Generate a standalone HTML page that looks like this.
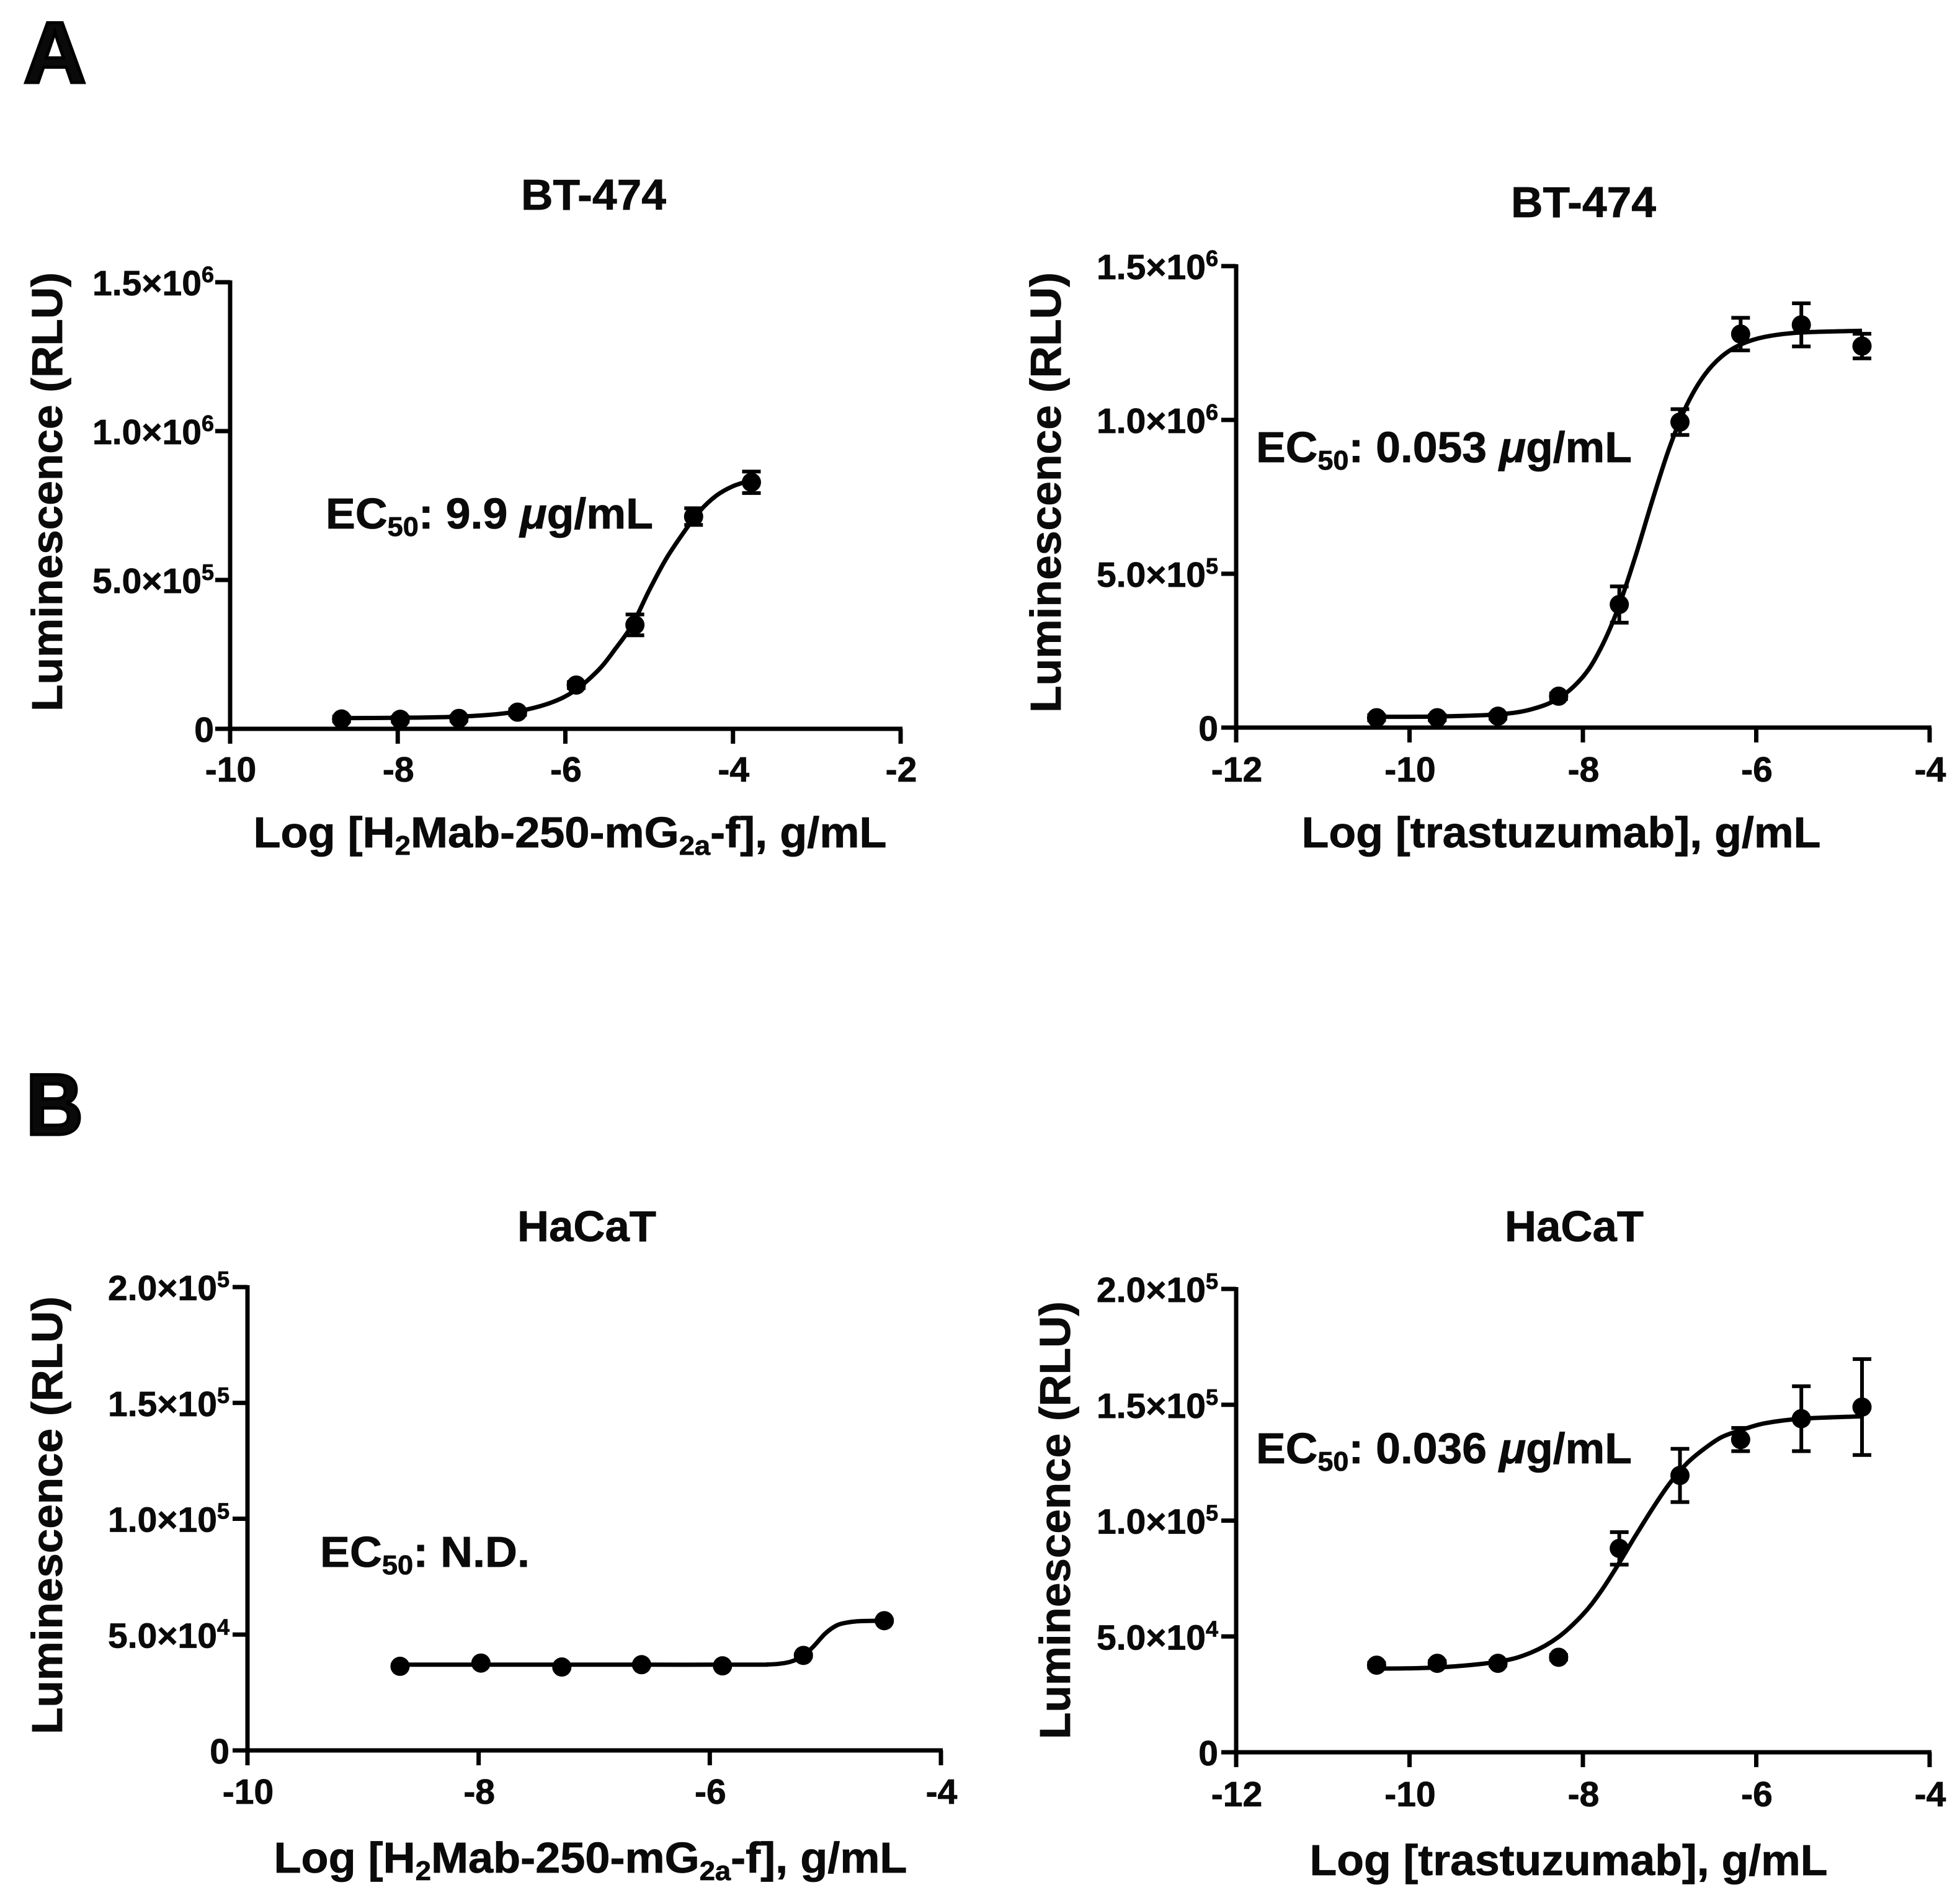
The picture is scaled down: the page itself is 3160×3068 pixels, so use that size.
<!DOCTYPE html>
<html lang="en">
<head>
<meta charset="utf-8">
<title>Luminescence dose-response curves</title>
<style>
html,body{margin:0;padding:0;background:#fff;}
svg{display:block;}
text{font-family:"Liberation Sans",Arial,sans-serif;font-weight:bold;fill:#0a0a0a;stroke:#0a0a0a;stroke-width:0.8px;}
.title{font-size:70px;text-anchor:middle;}
.axis-title{font-size:70px;text-anchor:middle;}
.ec{font-size:70px;}
.tick{font-size:57px;}
.panel-letter{font-size:140px;stroke:#000;stroke-width:5px;}
</style>
</head>
<body>
<svg id="figure" xmlns="http://www.w3.org/2000/svg" width="3160" height="3068" viewBox="0 0 3160 3068">
<rect width="3160" height="3068" fill="#fff"/>

<text class="panel-letter" x="38" y="133" textLength="101" lengthAdjust="spacingAndGlyphs">A</text>
<text class="panel-letter" x="42" y="1829" textLength="92" lengthAdjust="spacingAndGlyphs">B</text>

<text class="title" x="957" y="338" textLength="234" lengthAdjust="spacingAndGlyphs">BT-474</text>
<text class="title" x="2553" y="350" textLength="234" lengthAdjust="spacingAndGlyphs">BT-474</text>
<text class="title" x="946" y="2001" textLength="224" lengthAdjust="spacingAndGlyphs">HaCaT</text>
<text class="title" x="2538" y="2001" textLength="224" lengthAdjust="spacingAndGlyphs">HaCaT</text>

<text class="axis-title" x="919" y="1366" textLength="1021" lengthAdjust="spacingAndGlyphs">Log [H<tspan font-size="44" dy="12">2</tspan><tspan dy="-12">Mab-250-mG</tspan><tspan font-size="44" dy="12">2a</tspan><tspan dy="-12">-f], g/mL</tspan></text>
<text class="axis-title" x="2517" y="1366" textLength="837" lengthAdjust="spacingAndGlyphs">Log [trastuzumab], g/mL</text>
<text class="axis-title" x="952" y="3019" textLength="1021" lengthAdjust="spacingAndGlyphs">Log [H<tspan font-size="44" dy="12">2</tspan><tspan dy="-12">Mab-250-mG</tspan><tspan font-size="44" dy="12">2a</tspan><tspan dy="-12">-f], g/mL</tspan></text>
<text class="axis-title" x="2529" y="3023" textLength="835" lengthAdjust="spacingAndGlyphs">Log [trastuzumab], g/mL</text>

<text class="axis-title" transform="translate(100 793) rotate(-90)" textLength="708" lengthAdjust="spacingAndGlyphs">Luminescence (RLU)</text>
<text class="axis-title" transform="translate(1710 794) rotate(-90)" textLength="710" lengthAdjust="spacingAndGlyphs">Luminescence (RLU)</text>
<text class="axis-title" transform="translate(100 2443) rotate(-90)" textLength="706" lengthAdjust="spacingAndGlyphs">Luminescence (RLU)</text>
<text class="axis-title" transform="translate(1725 2451) rotate(-90)" textLength="706" lengthAdjust="spacingAndGlyphs">Luminescence (RLU)</text>

<text class="ec" x="525" y="852" textLength="528" lengthAdjust="spacingAndGlyphs">EC<tspan font-size="44" dy="12">50</tspan><tspan dy="-12">: 9.9 </tspan><tspan font-style="italic">μ</tspan>g/mL</text>
<text class="ec" x="2025" y="745" textLength="606" lengthAdjust="spacingAndGlyphs">EC<tspan font-size="44" dy="12">50</tspan><tspan dy="-12">: 0.053 </tspan><tspan font-style="italic">μ</tspan>g/mL</text>
<text class="ec" x="516" y="2526" textLength="338" lengthAdjust="spacingAndGlyphs">EC<tspan font-size="44" dy="12">50</tspan><tspan dy="-12">: N.D.</tspan></text>
<text class="ec" x="2025" y="2359" textLength="606" lengthAdjust="spacingAndGlyphs">EC<tspan font-size="44" dy="12">50</tspan><tspan dy="-12">: 0.036 </tspan><tspan font-style="italic">μ</tspan>g/mL</text>
</svg>

<script>
// ---- Panel A, left: BT-474 / H2Mab-250-mG2a-f ----
const aLeftXTicks = [-10, -8, -6, -4, -2];
const aLeftYTicks = [0, 500000, 1000000, 1500000];
const aLeftYLabels = ["0", "5.0×10^5", "1.0×10^6", "1.5×10^6"];
const aLeftConc = [-8.67, -7.97, -7.27, -6.57, -5.87, -5.17, -4.47, -3.78];
const aLeftMean = [33000, 32000, 35000, 56000, 147000, 349000, 713000, 828000];
const aLeftErr = [8000, 8000, 8000, 9000, 10000, 35000, 28000, 36000];
const aLeftCurveX = [-8.67, -8.0, -7.5, -7.0, -6.6, -6.2, -5.9, -5.6, -5.4, -5.2, -5.0, -4.8, -4.6, -4.4, -4.2, -4.0, -3.78];
const aLeftCurveY = [36000, 37000, 39000, 45000, 57000, 85000, 126000, 199000, 270000, 350000, 465000, 570000, 655000, 730000, 783000, 815000, 835000];

// ---- Panel A, right: BT-474 / trastuzumab ----
const aRightXTicks = [-12, -10, -8, -6, -4];
const aRightYTicks = [0, 500000, 1000000, 1500000];
const aRightYLabels = ["0", "5.0×10^5", "1.0×10^6", "1.5×10^6"];
const aRightConc = [-10.38, -9.68, -8.98, -8.28, -7.58, -6.88, -6.18, -5.48, -4.78];
const aRightMean = [32000, 32000, 37000, 102000, 400000, 993000, 1279000, 1309000, 1240000];
const aRightErr = [8000, 8000, 8000, 9000, 59000, 42000, 53000, 70000, 40000];
const aRightCurveX = [-10.38, -9.68, -8.98, -8.6, -8.28, -8.0, -7.8, -7.6, -7.4, -7.2, -7.0, -6.8, -6.6, -6.4, -6.18, -5.9, -5.5, -4.78];
const aRightCurveY = [35000, 36000, 43000, 59000, 95000, 165000, 254000, 383000, 551000, 737000, 911000, 1049000, 1145000, 1206000, 1245000, 1270000, 1284000, 1290000];

// ---- Panel B, left: HaCaT / H2Mab-250-mG2a-f ----
const bLeftXTicks = [-10, -8, -6, -4];
const bLeftYTicks = [0, 50000, 100000, 150000, 200000];
const bLeftYLabels = ["0", "5.0×10^4", "1.0×10^5", "1.5×10^5", "2.0×10^5"];
const bLeftConc = [-8.68, -7.98, -7.28, -6.59, -5.89, -5.19, -4.49];
const bLeftMean = [36300, 37700, 36000, 37000, 36500, 41000, 56000];
const bLeftErr = [500, 500, 500, 500, 500, 500, 500];
const bLeftCurveX = [-8.68, -7.5, -6.5, -5.6, -5.5, -5.4, -5.3, -5.2, -5.1, -5.0, -4.9, -4.8, -4.7, -4.49];
const bLeftCurveY = [37000, 37000, 37000, 37000, 37100, 37400, 38300, 40500, 45000, 50500, 54000, 55300, 55800, 56000];

// ---- Panel B, right: HaCaT / trastuzumab ----
const bRightXTicks = [-12, -10, -8, -6, -4];
const bRightYTicks = [0, 50000, 100000, 150000, 200000];
const bRightYLabels = ["0", "5.0×10^4", "1.0×10^5", "1.5×10^5", "2.0×10^5"];
const bRightConc = [-10.38, -9.68, -8.98, -8.28, -7.58, -6.88, -6.18, -5.48, -4.78];
const bRightMean = [37600, 38400, 38400, 41000, 88000, 119500, 135000, 144000, 149000];
const bRightErr = [1000, 1000, 1000, 1000, 7000, 11500, 5000, 14000, 20700];
const bRightCurveX = [-10.38, -9.68, -8.98, -8.6, -8.28, -8.0, -7.8, -7.6, -7.4, -7.2, -7.0, -6.8, -6.6, -6.4, -6.18, -5.9, -5.48, -4.78];
const bRightCurveY = [36100, 36600, 39100, 43000, 49800, 59500, 69000, 80600, 93000, 105000, 116000, 124700, 131000, 136000, 139000, 142000, 144000, 145000];

const NS = "http://www.w3.org/2000/svg";
const figure = document.getElementById("figure");

function make(tag, parent, attrs) {
  const el = document.createElementNS(NS, tag);
  for (const k in attrs) el.setAttribute(k, attrs[k]);
  parent.appendChild(el);
  return el;
}

function smoothPath(pts) {
  let d = "M" + pts[0][0].toFixed(1) + " " + pts[0][1].toFixed(1);
  for (let i = 0; i < pts.length - 1; i++) {
    const p0 = pts[Math.max(i - 1, 0)], p1 = pts[i], p2 = pts[i + 1], p3 = pts[Math.min(i + 2, pts.length - 1)];
    const c1x = p1[0] + (p2[0] - p0[0]) / 6, c1y = p1[1] + (p2[1] - p0[1]) / 6;
    const c2x = p2[0] - (p3[0] - p1[0]) / 6, c2y = p2[1] - (p3[1] - p1[1]) / 6;
    d += "C" + c1x.toFixed(1) + " " + c1y.toFixed(1) + " " + c2x.toFixed(1) + " " + c2y.toFixed(1) + " " + p2[0].toFixed(1) + " " + p2[1].toFixed(1);
  }
  return d;
}

function drawPanel(id, box, xTicks, yTicks, yLabels, conc, mean, err, curveX, curveY) {
  const xMin = xTicks[0], xMax = xTicks[xTicks.length - 1];
  const yMin = yTicks[0], yMax = yTicks[yTicks.length - 1];
  const sx = v => box.left + (v - xMin) / (xMax - xMin) * (box.right - box.left);
  const sy = v => box.bottom - (v - yMin) / (yMax - yMin) * (box.bottom - box.top);

  const g = make("g", figure, {});
  
  

  // axes
  const xAxis = make("line", g, {x1: box.left - 3, x2: box.right + 3, y1: box.bottom, y2: box.bottom, stroke: "#000", "stroke-width": 7});
  
  
  const yAxis = make("line", g, {x1: box.left, x2: box.left, y1: box.top - 3, y2: box.bottom + 3, stroke: "#000", "stroke-width": 7});
  
  

  xTicks.forEach(v => {
    const t = make("line", g, {x1: sx(v), x2: sx(v), y1: box.bottom, y2: box.bottom + 24, stroke: "#000", "stroke-width": 7});
    
    
    const lab = make("text", g, {x: sx(v) + 1, y: box.xLabelY, "text-anchor": "middle", class: "tick"});
    lab.textContent = String(v);
    
    
  });

  yTicks.forEach((v, i) => {
    const t = make("line", g, {x1: box.left - 24, x2: box.left, y1: sy(v), y2: sy(v), stroke: "#000", "stroke-width": 7});
    
    
    const parts = yLabels[i].split("^");
    const lab = make("text", g, {x: box.yLabelX, y: sy(v) + 21, "text-anchor": "end", class: "tick"});
    lab.appendChild(document.createTextNode(parts[0]));
    if (parts[1]) {
      const sup = make("tspan", lab, {"font-size": 36, dy: -21});
      sup.textContent = parts[1];
    }
    
    
  });

  // fitted curve
  const curvePts = curveX.map((x, i) => [sx(x), sy(curveY[i])]);
  const curve = make("path", g, {d: smoothPath(curvePts), fill: "none", stroke: "#000", "stroke-width": 7, "stroke-linejoin": "round"});
  
  

  // error bars and points
  conc.forEach((x, i) => {
    const px = sx(x), hi = sy(mean[i] + err[i]), lo = sy(mean[i] - err[i]);
    const bar = make("path", g, {d: "M" + (px - 15) + " " + hi + "H" + (px + 15) + "M" + px + " " + hi + "V" + lo + "M" + (px - 15) + " " + lo + "H" + (px + 15), fill: "none", stroke: "#000", "stroke-width": 6});
    
    
    const dot = make("circle", g, {cx: px, cy: sy(mean[i]), r: 15.5, fill: "#000"});
    
    
  });
}

drawPanel("a-left", {left: 371, right: 1452, top: 455, bottom: 1175, xLabelY: 1260, yLabelX: 345},
  aLeftXTicks, aLeftYTicks, aLeftYLabels, aLeftConc, aLeftMean, aLeftErr, aLeftCurveX, aLeftCurveY);
drawPanel("a-right", {left: 1993, right: 3111, top: 429, bottom: 1173, xLabelY: 1260, yLabelX: 1964},
  aRightXTicks, aRightYTicks, aRightYLabels, aRightConc, aRightMean, aRightErr, aRightCurveX, aRightCurveY);
drawPanel("b-left", {left: 399, right: 1517, top: 2075, bottom: 2822, xLabelY: 2908, yLabelX: 370},
  bLeftXTicks, bLeftYTicks, bLeftYLabels, bLeftConc, bLeftMean, bLeftErr, bLeftCurveX, bLeftCurveY);
drawPanel("b-right", {left: 1993, right: 3111, top: 2078, bottom: 2825, xLabelY: 2912, yLabelX: 1964},
  bRightXTicks, bRightYTicks, bRightYLabels, bRightConc, bRightMean, bRightErr, bRightCurveX, bRightCurveY);
</script>
</body>
</html>
